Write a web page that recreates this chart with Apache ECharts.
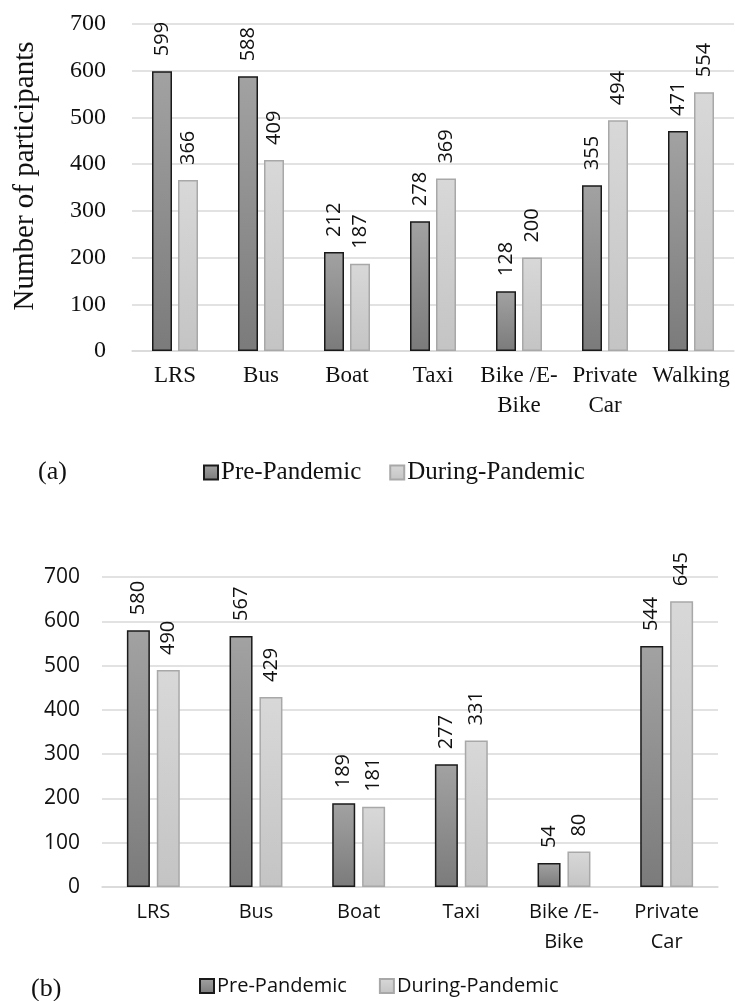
<!DOCTYPE html>
<html>
<head>
<meta charset="utf-8">
<script src="https://cdn.jsdelivr.net/npm/echarts@6/dist/echarts.min.js"></script>
<style>
html,body{margin:0;padding:0;background:#fff;}
#chart{width:735px;height:1001px;}
</style>
</head>
<body>
<div id="chart"></div>
<script>
// ---- Data ----
const categoriesA = ['LRS', 'Bus', 'Boat', 'Taxi', 'Bike /E-\nBike', 'Private\nCar', 'Walking'];
const preA = [599, 588, 212, 278, 128, 355, 471];
const duringA = [366, 409, 187, 369, 200, 494, 554];

const categoriesB = ['LRS', 'Bus', 'Boat', 'Taxi', 'Bike /E-\nBike', 'Private\nCar'];
const preB = [580, 567, 189, 277, 54, 544];
const duringB = [490, 429, 181, 331, 80, 645];

const seriesNames = ['Pre-Pandemic', 'During-Pandemic'];
const yTicks = { min: 0, max: 700, interval: 100 };
const yTitleA = 'Number of participants';
const panelTags = ['(a)', '(b)'];

// ---- Styles ----
const SERIF = 'Liberation Serif';
const SANS = 'Open Sans';
const gridColor = '#d9d9d9';
const preStyle = {
  color: new echarts.graphic.LinearGradient(0, 0, 0, 1, [
    { offset: 0, color: '#a2a2a2' }, { offset: 1, color: '#7b7b7b' }
  ]),
  borderColor: '#1a1a1a', borderWidth: 1.5
};
const durStyle = {
  color: new echarts.graphic.LinearGradient(0, 0, 0, 1, [
    { offset: 0, color: '#d8d8d8' }, { offset: 1, color: '#c4c4c4' }
  ]),
  borderColor: '#a8a8a8', borderWidth: 1.5
};

function labelCfg(font, size) {
  return {
    show: true, position: 'top', rotate: 90, align: 'left', verticalAlign: 'middle',
    distance: 15, fontFamily: font, fontSize: size, color: '#111'
  };
}

const chart = echarts.init(document.getElementById('chart'), null, { renderer: 'canvas' });

const option = {
  animation: false,
  backgroundColor: '#fff',
  grid: [
    { left: 132, right: 1, top: 24, bottom: 650 },
    { left: 102, right: 17, top: 577, bottom: 114 }
  ],
  xAxis: [
    {
      gridIndex: 0, type: 'category', data: categoriesA,
      axisLine: { lineStyle: { color: gridColor, width: 1.5 } },
      axisTick: { show: false },
      axisLabel: { fontFamily: SERIF, fontSize: 23, color: '#111', margin: 10, lineHeight: 30, interval: 0 }
    },
    {
      gridIndex: 1, type: 'category', data: categoriesB,
      axisLine: { lineStyle: { color: gridColor, width: 1.5 } },
      axisTick: { show: false },
      axisLabel: { fontFamily: SANS, fontSize: 20, color: '#111', margin: 10, lineHeight: 30, interval: 0 }
    }
  ],
  yAxis: [
    {
      gridIndex: 0, type: 'value', min: yTicks.min, max: yTicks.max, interval: yTicks.interval,
      axisLine: { show: false }, axisTick: { show: false },
      splitLine: { lineStyle: { color: gridColor, width: 1.5 } },
      axisLabel: { fontFamily: SERIF, fontSize: 24, color: '#111', margin: 26 }
    },
    {
      gridIndex: 1, type: 'value', min: yTicks.min, max: yTicks.max, interval: yTicks.interval,
      axisLine: { show: false }, axisTick: { show: false },
      splitLine: { lineStyle: { color: gridColor, width: 1.5 } },
      axisLabel: { fontFamily: SANS, fontSize: 21, color: '#111', margin: 22 }
    }
  ],
  legend: [
    {
      data: seriesNames, left: 198, top: 455, icon: 'rect', itemWidth: 14, itemHeight: 14, itemGap: 28,
      textStyle: { fontFamily: SERIF, fontSize: 25, color: '#111', padding: [0, 0, 0, -2] },
      selectedMode: false
    },
    {
      data: seriesNames, left: 194, top: 971, icon: 'rect', itemWidth: 14, itemHeight: 14, itemGap: 32,
      textStyle: { fontFamily: SANS, fontSize: 20, color: '#111', padding: [0, 0, 0, -2] },
      selectedMode: false
    }
  ],
  graphic: [
    { type: 'text', x: 25, y: 176, rotation: Math.PI / 2,
      style: { text: yTitleA, fontFamily: SERIF, fontSize: 29, fill: '#111', align: 'center', verticalAlign: 'middle' } },
    { type: 'text', left: 38, top: 459, style: { text: panelTags[0], fontFamily: SERIF, fontSize: 26, fill: '#111' } },
    { type: 'text', left: 31, top: 976, style: { text: panelTags[1], fontFamily: SERIF, fontSize: 26, fill: '#111' } }
  ],
  series: [
    { name: seriesNames[0], type: 'bar', xAxisIndex: 0, yAxisIndex: 0, data: preA,
      barWidth: 20, barGap: '30%', itemStyle: preStyle, label: labelCfg(SANS, 20) },
    { name: seriesNames[1], type: 'bar', xAxisIndex: 0, yAxisIndex: 0, data: duringA,
      barWidth: 20, barGap: '30%', itemStyle: durStyle, label: labelCfg(SANS, 20) },
    { name: seriesNames[0], type: 'bar', xAxisIndex: 1, yAxisIndex: 1, data: preB,
      barWidth: 23, barGap: '30%', itemStyle: preStyle, label: labelCfg(SANS, 20) },
    { name: seriesNames[1], type: 'bar', xAxisIndex: 1, yAxisIndex: 1, data: duringB,
      barWidth: 23, barGap: '30%', itemStyle: durStyle, label: labelCfg(SANS, 20) }
  ]
};
chart.setOption(option);
</script>
</body>
</html>
